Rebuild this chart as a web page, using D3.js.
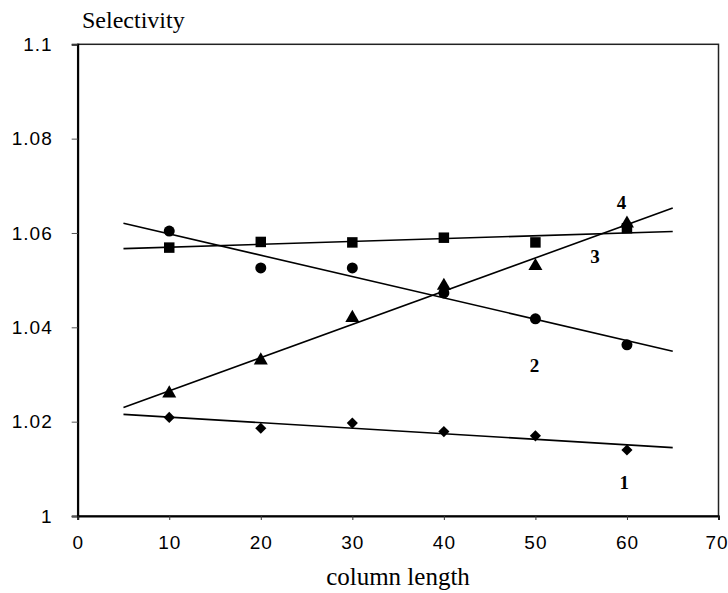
<!DOCTYPE html>
<html><head><meta charset="utf-8">
<script src="https://cdn.jsdelivr.net/npm/d3@7"></script>
<style>body{margin:0;background:#fff;} svg{display:block;}</style>
</head><body>
<svg id="chart" width="728" height="593"></svg>
<script>
const columnLength = [10, 20, 30, 40, 50, 60];
const series1 = [1.0209, 1.0186, 1.0197, 1.0179, 1.0170, 1.0140]; // diamonds
const series2 = [1.0604, 1.0526, 1.0526, 1.0473, 1.0418, 1.0363]; // circles
const series3 = [1.0569, 1.0581, 1.0580, 1.0590, 1.0580, 1.0610]; // squares
const series4 = [1.0260, 1.0330, 1.0420, 1.0488, 1.0530, 1.0620]; // triangles
const seriesNames = ["1", "2", "3", "4"];
const labelX = [59.7, 49.9, 56.5, 59.4];
const labelY = [1.0070, 1.0319, 1.0550, 1.0664];
const xTicks = [0, 10, 20, 30, 40, 50, 60, 70];
const yTicks = [1, 1.02, 1.04, 1.06, 1.08, 1.1];
const trendRange = [5, 65];

const svg = d3.select("#chart");
const x = d3.scaleLinear().domain([0, 70]).range([77.7, 718.5]);
const y = d3.scaleLinear().domain([1, 1.1]).range([516, 44.3]);

// frame
svg.append("rect").attr("x", x(0)).attr("y", y(1.1))
  .attr("width", x(70) - x(0)).attr("height", y(1) - y(1.1))
  .attr("fill", "none").attr("stroke", "#222").attr("stroke-width", 1.5);

// axes
const yAxis = svg.append("g").attr("transform", `translate(${x(0)},0)`)
  .call(d3.axisLeft(y).tickValues(yTicks).tickSize(6).tickPadding(19)
    .tickFormat(d => d3.format("")(+d.toFixed(2))));
yAxis.select(".domain").attr("stroke", "#000").attr("stroke-width", 2);
yAxis.selectAll(".tick line").attr("stroke", "#555");
yAxis.selectAll("text").attr("font-family", "Liberation Sans, Arial, sans-serif")
  .attr("font-size", 19).attr("fill", "#000").attr("letter-spacing", 1);

const xAxis = svg.append("g").attr("transform", `translate(0,${y(1)})`)
  .call(d3.axisBottom(x).tickValues(xTicks).tickSize(4).tickPadding(16).tickFormat(d3.format("d")));
xAxis.select(".domain").attr("stroke", "#000").attr("stroke-width", 2);
xAxis.selectAll(".tick line").attr("stroke", "#333");
xAxis.selectAll("text").attr("font-family", "Liberation Sans, Arial, sans-serif")
  .attr("font-size", 19).attr("fill", "#000").attr("letter-spacing", 1);
xAxis.selectAll(".tick").filter(d => d === 70).select("text").attr("dx", -2);

// axis titles
svg.append("text").attr("x", 82).attr("y", 28)
  .attr("font-family", "Liberation Serif, Times New Roman, serif").attr("font-size", 24)
  .text("Selectivity");
svg.append("text").attr("x", 398).attr("y", 585).attr("text-anchor", "middle")
  .attr("font-family", "Liberation Serif, Times New Roman, serif").attr("font-size", 25)
  .text("column length");

// trend lines (least squares)
function fit(ys) {
  const mx = d3.mean(columnLength), my = d3.mean(ys);
  const sxy = d3.sum(columnLength, (v, i) => (v - mx) * (ys[i] - my));
  const sxx = d3.sum(columnLength, v => (v - mx) ** 2);
  const b = sxy / sxx, a = my - b * mx;
  return trendRange.map(v => [v, a + b * v]);
}
const allSeries = [series1, series2, series3, series4];
const line = d3.line().x(d => x(d[0])).y(d => y(d[1]));
allSeries.forEach(s => {
  svg.append("path").attr("d", line(fit(s))).attr("fill", "none")
    .attr("stroke", "#000").attr("stroke-width", 1.6);
});

// markers
const symbols = [
  d3.symbol().type(d3.symbolSquare).size(62),
  d3.symbol().type(d3.symbolCircle).size(95),
  d3.symbol().type(d3.symbolSquare).size(110),
  d3.symbol().type(d3.symbolTriangle).size(85)
];
const rot = [45, 0, 0, 0];
allSeries.forEach((s, k) => {
  svg.append("g").selectAll("path").data(s).join("path")
    .attr("d", symbols[k])
    .attr("transform", (d, i) => `translate(${x(columnLength[i])},${y(d)}) rotate(${rot[k]})`)
    .attr("fill", "#000");
});

// series labels
svg.append("g").selectAll("text").data(seriesNames).join("text")
  .attr("x", (d, i) => x(labelX[i])).attr("y", (d, i) => y(labelY[i]))
  .attr("text-anchor", "middle").attr("dominant-baseline", "central")
  .attr("font-family", "Liberation Serif, Times New Roman, serif")
  .attr("font-weight", "bold").attr("font-size", 19)
  .text(d => d);
</script>
</body></html>
